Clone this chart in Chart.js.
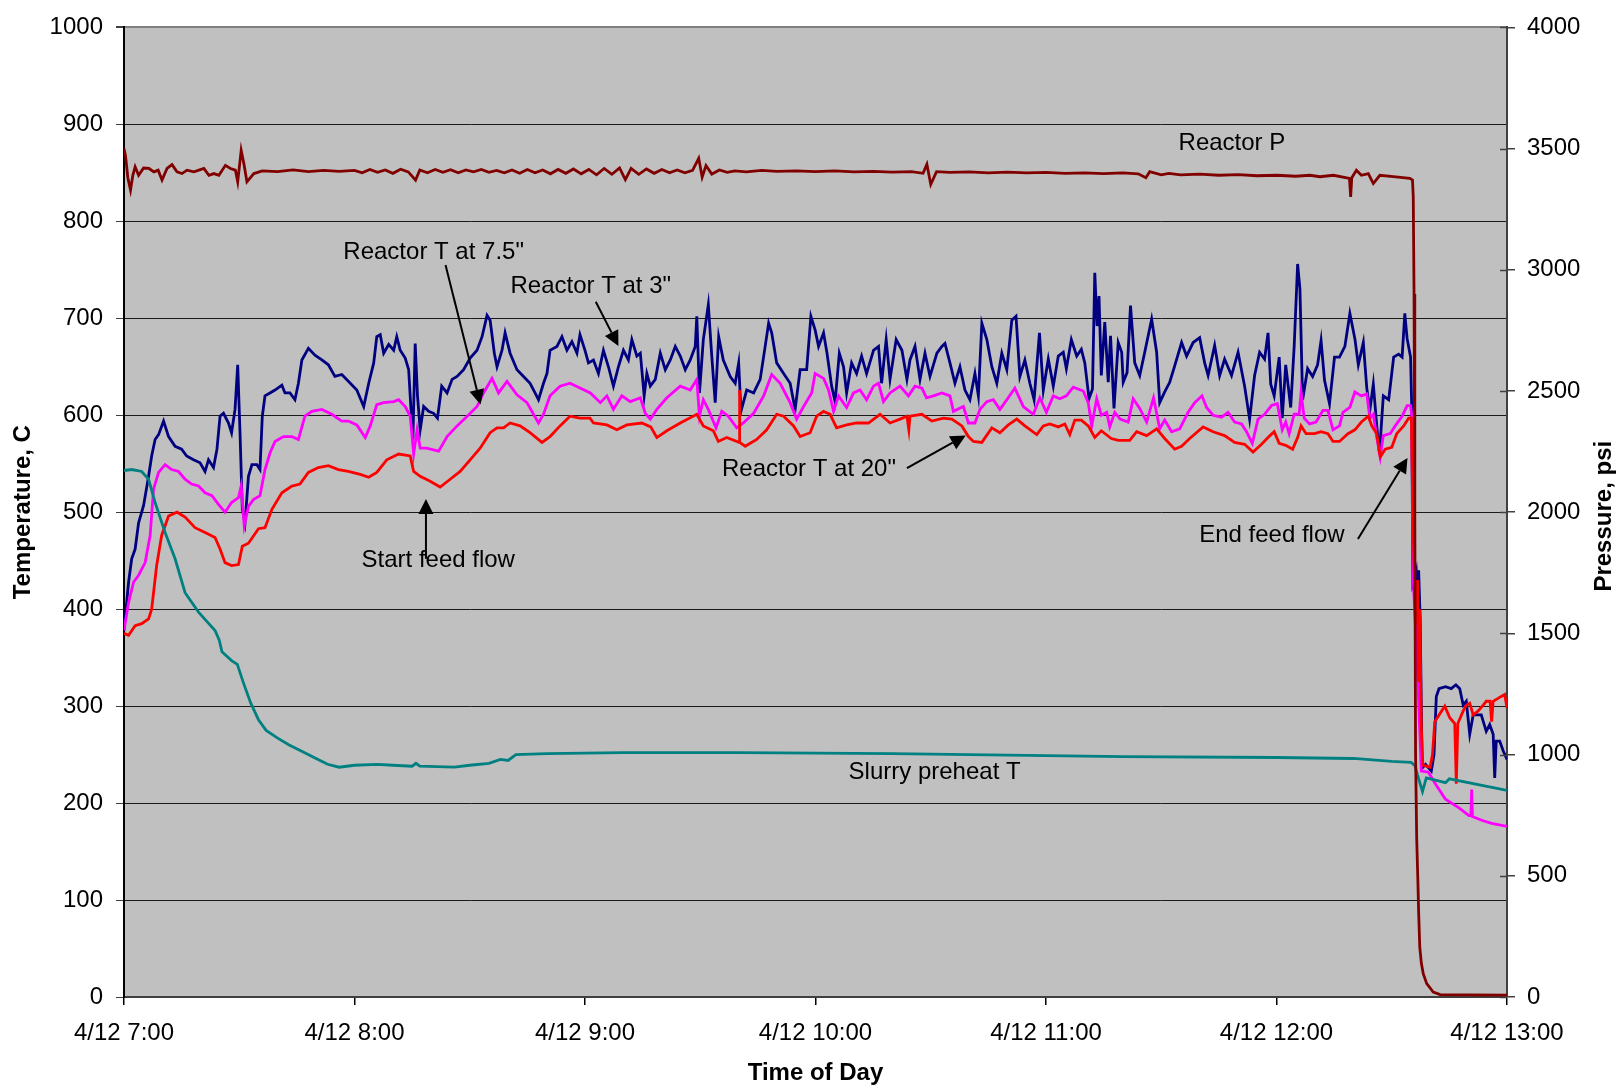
<!DOCTYPE html>
<html>
<head>
<meta charset="utf-8">
<script src="https://cdn.jsdelivr.net/npm/chart.js@4"></script>
<style>
  html, body { margin: 0; padding: 0; background: #fff; }
  canvas { display: block; }
</style>
</head>
<body>
<canvas id="runChart" width="1616" height="1088"></canvas>
<script>
// time is minutes after 4/12 7:00, temperatures in C, pressure in psi
const temp3in = [
  [0,378],[1.2,428],[2.0,452],[2.9,462],[3.8,489],[5.1,507],[6.4,537],[7.2,558],[8.1,575],[9.0,580],
  [10.3,594],[11.6,578],[13.3,568],[15.0,565],[16.3,558],[18.1,554],[19.8,551],[21.1,542],[22.0,554],[23.3,546],
  [24.2,565],[25.0,599],[25.9,602],[27.2,592],[28.0,582],[28.9,606],[29.6,652],[30.2,582],[30.8,503],[31.5,489],
  [32.4,537],[33.3,549],[34.6,549],[35.4,544],[36.0,599],[36.7,620],[38.0,623],[39.3,626],[41.1,631],[41.9,623],
  [43.2,623],[44.5,616],[45.4,633],[46.3,657],[48.0,669],[49.7,662],[51.5,657],[53.2,652],[54.9,640],[56.7,642],
  [58.4,635],[60.6,626],[62.4,609],[63.7,633],[65.0,654],[65.8,681],[66.7,683],[67.6,664],[68.9,673],[70.2,667],
  [71.0,681],[71.9,667],[73.2,659],[74.1,647],[74.7,606],[75.2,575],[75.8,674],[76.4,620],[77.1,585],[78.0,609],
  [79.3,604],[80.6,602],[81.6,597],[82.7,630],[84.1,623],[85.4,637],[86.7,640],[88.4,647],[90.1,659],[91.9,667],
  [93.2,681],[94.5,703],[95.3,698],[96.4,664],[97.1,650],[98.4,667],[99.2,685],[100.5,664],[102.3,647],[104.0,640],
  [105.7,633],[107.0,623],[107.9,616],[109.2,633],[110.1,643],[110.9,667],[112.7,671],[114.0,681],[115.3,667],[116.6,676],
  [117.9,664],[118.7,683],[120.0,667],[120.9,654],[122.2,657],[123.5,643],[124.8,667],[126.1,650],[127.4,630],[128.7,650],
  [130.0,667],[131.3,657],[132.2,678],[133.5,661],[134.4,664],[135.4,620],[136.1,643],[137.0,630],[138.3,637],[139.6,664],
  [140.9,647],[142.2,657],[143.5,671],[144.8,661],[146.1,647],[147.4,657],[148.7,671],[149.1,702],[149.8,623],[150.8,678],
  [152.1,714],[153.0,661],[153.9,613],[154.8,681],[156.0,657],[157.8,640],[159.1,633],[160.0,654],[160.6,604],[162.1,626],
  [163.9,623],[165.6,637],[166.9,671],[167.8,695],[168.6,685],[169.9,654],[171.7,643],[173.4,633],[174.7,606],[176.0,647],
  [177.7,647],[178.8,702],[179.9,688],[180.8,671],[182.1,685],[183.0,664],[184.2,630],[185.1,614],[186.2,664],[187.3,650],
  [188.1,623],[189.4,654],[190.7,643],[192.0,661],[193.3,643],[195.1,667],[196.4,671],[197.2,633],[198.4,678],[199.4,637],
  [201.0,678],[202.5,667],[203.8,637],[204.6,657],[205.9,671],[207.2,637],[208.5,664],[209.8,640],[211.6,664],[212.9,671],
  [213.7,674],[215.0,654],[216.3,633],[217.6,650],[218.9,626],[220.2,616],[221.5,643],[222.4,620],[223.3,695],[224.6,678],
  [225.9,650],[227.2,633],[228.5,664],[229.8,647],[231.1,698],[232.2,702],[233.2,640],[234.5,657],[235.8,633],[236.9,616],
  [238.3,685],[239.3,626],[240.6,658],[241.9,630],[243.2,661],[244.5,665],[245.3,648],[246.6,678],[248.0,661],[249.2,668],
  [250.1,654],[251.2,617],[252.1,627],[252.7,747],[253.3,692],[253.8,723],[254.4,641],[255.3,696],[256.2,634],[256.8,682],
  [257.7,607],[258.8,675],[259.7,665],[260.1,634],[261.1,644],[262.0,713],[263.1,654],[264.4,641],[265.7,665],[267.5,699],
  [268.8,665],[269.6,613],[270.9,624],[272.2,634],[273.5,651],[275.3,675],[276.6,661],[278.3,675],[280.0,680],[281.3,654],
  [282.2,641],[283.9,672],[285.2,641],[286.5,658],[288.3,641],[290.0,665],[291.7,630],[293.0,596],[294.3,641],[295.6,665],
  [296.9,658],[297.8,685],[298.5,632],[299.4,620],[300.7,660],[301.5,597],[302.4,652],[303.7,608],[304.6,671],[305.5,756],
  [306.1,730],[306.8,616],[308.1,648],[309.4,640],[310.7,652],[311.6,677],[312.5,636],[313.8,612],[315.1,660],[316.4,660],
  [317.8,671],[319.1,705],[320.4,679],[321.3,652],[322.6,675],[323.5,628],[324.3,605],[325.2,632],[326.1,589],[326.8,560],
  [327.8,620],[329.2,616],[330.5,660],[331.8,663],[332.7,660],[333.4,705],[334.0,679],[334.9,660],[335.2,608],[335.5,425],
  [336.0,430],[336.4,438],[336.7,415],[337.0,440],[337.4,390],[337.9,236],[338.8,240],[340.3,233],[341.0,250],[341.6,310],
  [342.3,318],[344.0,320],[345.5,318],[346.7,322],[347.7,318],[348.6,301],[349.4,305],[350.3,271],[351.2,291],[352.0,291],
  [353.3,291],[354.6,274],[355.5,281],[356.4,271],[356.8,226],[357.2,264],[358.1,264],[359.0,254],[360,245]
];

const temp7in = [
  [0,378],[1.2,407],[2.5,428],[3.8,435],[5.5,448],[6.8,476],[7.7,524],[9.0,541],[10.7,549],[12.4,544],
  [14.2,542],[15.9,534],[17.6,529],[19.4,527],[21.1,520],[22.9,517],[24.6,508],[26.3,500],[28.0,510],[29.8,515],
  [30.5,527],[31.3,486],[32.4,506],[33.7,513],[35.4,517],[36.7,544],[38.0,561],[39.3,573],[41.5,578],[43.7,578],
  [45.4,575],[47.1,599],[48.9,604],[51.5,606],[54.1,601],[56.7,594],[58.4,594],[60.6,590],[62.8,577],[64.1,589],
  [65.8,611],[67.6,613],[70.2,614],[71.5,616],[73.2,609],[74.5,599],[75.4,560],[76.3,585],[77.1,566],[78.8,566],
  [81.9,563],[84.1,578],[86.7,589],[88.8,597],[91.9,609],[93.6,623],[95.8,638],[97.5,623],[99.7,635],[102.3,621],
  [104.9,613],[106.6,601],[107.9,592],[109.2,601],[110.9,620],[113.5,630],[116.1,633],[118.7,628],[121.4,623],[124.0,613],
  [125.7,620],[127.4,606],[129.6,620],[131.8,614],[134.4,618],[135.7,602],[137.0,596],[138.7,606],[141.3,618],[144.8,630],
  [147.4,626],[149.1,637],[149.8,599],[150.8,616],[152.1,606],[154.1,587],[155.6,604],[157.3,599],[159.5,587],[161.2,592],
  [163.9,602],[166.5,620],[168.6,642],[170.8,633],[173.4,613],[175.1,596],[176.9,609],[179.0,623],[179.9,643],[182.1,638],
  [183.4,626],[184.7,604],[186.0,620],[188.1,608],[189.9,623],[191.6,626],[193.3,616],[195.1,630],[196.4,633],[197.7,614],
  [199.4,623],[202.0,630],[204.2,620],[205.9,630],[207.7,628],[208.9,618],[210.7,620],[212.9,623],[215.0,620],[215.9,604],
  [218.5,609],[219.8,592],[221.5,592],[222.8,606],[224.6,614],[226.3,616],[228.0,606],[229.8,616],[231.9,628],[234.1,609],
  [236.7,601],[238.4,618],[240.1,603],[241.9,620],[243.6,617],[245.3,620],[247.1,629],[249.7,625],[251.0,613],[251.9,589],
  [253.2,617],[254.4,600],[255.8,603],[256.6,588],[257.9,603],[259.3,596],[261.4,593],[262.7,617],[264.4,607],[266.2,593],
  [268.0,618],[269.6,586],[270.9,595],[272.7,583],[274.8,586],[277.0,603],[278.7,613],[280.6,620],[281.8,608],[283.5,600],
  [285.7,598],[287.4,603],[289.1,593],[290.9,591],[292.2,583],[293.7,571],[295.2,596],[296.9,601],[298.7,610],[300.2,612],
  [301.5,585],[302.4,593],[303.3,581],[304.6,601],[305.9,601],[306.4,624],[307.2,597],[308.6,591],[310.3,593],[312.1,605],
  [313.4,605],[314.7,585],[316.4,589],[317.3,603],[319.1,608],[320.4,624],[322.1,620],[323.5,622],[324.3,597],[325.2,601],
  [326.1,577],[327.0,557],[327.8,579],[329.6,581],[330.9,589],[332.7,599],[334.0,610],[334.9,610],[335.2,600],[335.6,430],
  [336.2,380],[336.9,315],[337.7,233],[339.5,232],[341.5,219],[344.0,204],[347.5,195],[350.1,187],[350.6,187],[350.8,214],
  [351.0,186],[353.6,182],[356.0,179],[360,176]
];

const temp20in = [
  [0,375],[1.2,373],[2.9,383],[4.6,385],[6.4,390],[7.2,400],[8.5,445],[9.8,476],[11.6,496],[13.8,500],
  [15.9,495],[18.5,484],[21.1,479],[23.7,474],[25.0,462],[26.3,448],[28.0,445],[29.8,446],[30.8,465],[32.4,468],
  [35.0,483],[36.7,484],[38.5,503],[41.1,520],[43.7,527],[45.8,529],[48.0,541],[50.6,546],[53.2,548],[55.8,544],
  [58.4,542],[61.5,539],[63.7,536],[65.8,541],[68.4,554],[71.5,560],[74.5,558],[75.4,542],[77.1,537],[79.7,532],
  [82.3,526],[84.9,534],[87.5,542],[90.1,554],[92.7,566],[95.3,582],[97.1,587],[98.8,587],[100.5,592],[103.1,589],
  [105.7,582],[108.8,572],[110.9,578],[113.5,589],[116.1,599],[118.7,597],[121.3,597],[122.2,592],[125.7,590],[128.3,585],
  [130.9,590],[134.8,592],[137.1,588],[138.7,577],[141.3,584],[144.8,592],[149.1,601],[150.8,589],[153.4,584],[154.7,573],
  [156.9,577],[160.1,572],[160.2,626],[160.3,572],[161.7,568],[164.7,575],[167.3,585],[169.9,601],[171.7,599],[174.3,589],
  [176.0,578],[178.6,582],[180.3,599],[182.1,604],[183.8,601],[185.5,587],[188.1,590],[190.7,592],[193.8,592],[196.8,601],
  [199.4,592],[202.0,596],[203.8,599],[204.3,585],[204.6,599],[207.7,601],[210.3,594],[213.3,597],[215.5,596],[218.1,589],
  [219.8,578],[221.1,573],[223.3,572],[225.9,587],[228.0,582],[230.2,590],[232.4,596],[234.5,589],[237.6,580],[239.3,589],
  [241.0,591],[243.2,588],[244.9,591],[246.2,580],[247.5,595],[249.2,595],[251.0,589],[252.7,577],[254.4,584],[257.0,576],
  [258.8,574],[261.8,574],[263.6,583],[266.2,579],[268.8,586],[270.9,576],[273.5,565],[275.3,568],[277.4,576],[280.9,588],
  [283.5,583],[286.5,579],[289.1,572],[291.7,570],[293.9,562],[296.1,570],[298.3,579],[299.4,583],[300.7,571],[302.4,569],
  [304.2,565],[305.5,577],[306.4,589],[307.7,581],[309.9,581],[311.6,583],[313.4,581],[314.7,573],[316.4,573],[318.6,581],
  [320.4,585],[322.1,593],[323.9,599],[324.8,589],[326.1,581],[327.0,557],[328.3,565],[330.0,567],[331.3,581],[333.1,589],
  [334.4,597],[335.1,597],[335.7,463],[336.2,384],[336.5,420],[336.7,430],[337.0,325],[337.3,400],[337.7,278],[338.1,239],
  [340.0,237],[340.6,250],[341.2,284],[342.5,292],[343.8,300],[345.1,288],[346.4,282],[346.8,220],[347.2,282],[348.6,295],
  [349.4,301],[350.3,303],[351.2,291],[352.5,295],[353.8,301],[354.6,305],[355.6,305],[356.0,284],[356.4,305],[358.5,310],
  [359.4,312],[360,298]
];

const slurryT = [
  [0,543],[2,544],[4.6,542],[6.4,534],[8.1,510],[10.7,479],[13.3,452],[15.9,417],[19.4,397],[23.7,378],
  [24.8,368],[25.5,356],[28,347],[29.5,343],[31,325],[33,303],[35,286],[37,275],[40,267],[43,260],
  [46,254],[50,246],[53,240],[56,237],[60,239],[66,240],[70,239],[75,238],[76,241],[77,238],
  [86,237],[90,239],[95,241],[98,245],[100,244],[102,250],[110,251],[130,252],[160,252],[200,251],
  [240,249],[260,248],[300,247],[320,246],[330,243],[335,242],[336,239],[337,225],[338,212],[339,226],
  [344,221],[345,225],[360,213]
];

const reactorP = [
  [0,3500],[0.4,3470],[1.0,3380],[1.7,3329],[2.3,3390],[2.9,3425],[3.8,3390],[5.1,3420],[6.5,3418],[7.8,3404],
  [8.9,3411],[9.9,3370],[11.2,3418],[12.5,3434],[13.8,3404],[15.1,3397],[16.4,3411],[18.2,3404],[19.5,3411],[20.8,3418],
  [22.1,3390],[23.4,3397],[24.7,3390],[26.4,3431],[27.7,3418],[29.0,3411],[29.6,3363],[30.5,3493],[31.2,3438],[32.0,3363],
  [33.8,3397],[36,3408],[40,3405],[44,3412],[48,3405],[52,3410],[56,3406],[60,3410],[62,3400],[64,3414],
  [66,3402],[68,3412],[70,3398],[72,3415],[74,3404],[75.9,3370],[77,3412],[79,3400],[81,3414],[83,3402],
  [85,3413],[87,3400],[89,3412],[91,3404],[93,3414],[95,3402],[97,3410],[99,3400],[101,3412],[103,3398],
  [105,3414],[107,3400],[109,3412],[111,3396],[113,3414],[115,3398],[117,3416],[119,3396],[121,3414],[123,3392],
  [125,3418],[127,3394],[129,3420],[130.5,3372],[132,3418],[134,3394],[136,3416],[138,3398],[140,3414],[142,3400],
  [144,3412],[146,3400],[148,3410],[149.6,3460],[150.5,3382],[151.5,3430],[153,3395],[155,3412],[157,3402],[159,3408],
  [162,3404],[166,3410],[170,3406],[175,3408],[180,3405],[185,3408],[190,3404],[195,3406],[200,3403],[205,3405],
  [208,3398],[209,3435],[210,3352],[211.5,3405],[215,3402],[220,3404],[225,3400],[230,3403],[235,3400],[240,3402],
  [245,3398],[250,3400],[255,3397],[260,3400],[264,3396],[266,3380],[267,3405],[270,3392],[272,3398],[275,3392],
  [280,3395],[285,3390],[290,3393],[295,3388],[300,3390],[305,3386],[308.7,3390],[311.3,3384],[314.8,3390],[319,3377],
  [319.3,3301],[319.6,3380],[320.8,3411],[322.1,3390],[323.9,3397],[325.2,3356],[326.9,3390],[330.4,3384],[334.7,3377],[335.4,3370],
  [335.6,3300],[335.8,2900],[336.0,2000],[336.2,1000],[336.5,650],[336.8,480],[337.0,350],[337.3,205],[337.7,140],[338.2,96],
  [339.1,55],[340.8,20],[342.6,10],[350,9],[360,8]
];

const hourTicks = ['4/12 7:00', '4/12 8:00', '4/12 9:00', '4/12 10:00', '4/12 11:00', '4/12 12:00', '4/12 13:00'];

// text labels and arrows, placed in (minutes, C)
const notes = [
  { text: 'Reactor P', x: 288.4, y: 880 },
  { text: 'Reactor T at 7.5"', x: 80.6, y: 767.7 },
  { text: 'Reactor T at 3"', x: 121.5, y: 732.8 },
  { text: 'Reactor T at 20"', x: 178.3, y: 544.2 },
  { text: 'Start feed flow', x: 81.8, y: 450.7 },
  { text: 'Slurry preheat T', x: 211.0, y: 232 },
  { text: 'End feed flow', x: 298.8, y: 476.6 }
];
const arrows = [
  { from: [83.7, 755], to: [92.8, 611] },
  { from: [122.8, 717], to: [128.7, 671.4] },
  { from: [203.8, 545.4], to: [219.1, 579.2] },
  { from: [78.6, 452], to: [78.6, 513.7] },
  { from: [321.2, 472.3], to: [334.1, 556] }
];

const FONT = 'Liberation Sans, Arial, Helvetica, sans-serif';
const pts = arr => arr.map(([x, y]) => ({ x, y }));

function drawArrow(ctx, x1, y1, x2, y2) {
  const ang = Math.atan2(y2 - y1, x2 - x1);
  const len = 15, half = 7.5;
  const c = Math.cos(ang), s = Math.sin(ang);
  ctx.beginPath();
  ctx.moveTo(x1, y1);
  ctx.lineTo(x2 - len * c, y2 - len * s);
  ctx.stroke();
  ctx.beginPath();
  ctx.moveTo(x2, y2);
  ctx.lineTo(x2 - len * c - half * s, y2 - len * s + half * c);
  ctx.lineTo(x2 - len * c + half * s, y2 - len * s - half * c);
  ctx.closePath();
  ctx.fill();
}

const plotDecor = {
  id: 'plotDecor',
  beforeDraw(chart) {
    const { ctx, chartArea: a } = chart;
    ctx.save();
    ctx.fillStyle = '#c0c0c0';
    ctx.fillRect(a.left, a.top, a.right - a.left, a.bottom - a.top);
    ctx.restore();
  },
  afterDraw(chart) {
    const { ctx, chartArea: a, scales } = chart;
    const sx = scales.x, sy = scales.y, sp = scales.yP;
    ctx.save();

    // pressure axis ticks cross the axis line
    ctx.strokeStyle = '#404040';
    ctx.lineWidth = 1.5;
    sp.ticks.forEach(t => {
      const py = Math.round(sp.getPixelForValue(t.value)) + 0.5;
      ctx.beginPath();
      ctx.moveTo(a.right - 7, py);
      ctx.lineTo(a.right, py);
      ctx.stroke();
    });

    ctx.fillStyle = '#000';
    ctx.font = '24px ' + FONT;
    ctx.textAlign = 'center';
    ctx.textBaseline = 'middle';
    notes.forEach(n => ctx.fillText(n.text, sx.getPixelForValue(n.x), sy.getPixelForValue(n.y)));

    ctx.strokeStyle = '#000';
    ctx.lineWidth = 2;
    arrows.forEach(ar => drawArrow(ctx,
      sx.getPixelForValue(ar.from[0]), sy.getPixelForValue(ar.from[1]),
      sx.getPixelForValue(ar.to[0]), sy.getPixelForValue(ar.to[1])));

    // right axis title reads bottom to top
    ctx.font = 'bold 24px ' + FONT;
    ctx.translate(1604, (a.top + a.bottom) / 2 + 4);
    ctx.rotate(-Math.PI / 2);
    ctx.fillText('Pressure, psi', 0, 0);
    ctx.restore();
  }
};

const line = (label, arr, color, axis) => ({
  label,
  data: pts(arr),
  borderColor: color,
  backgroundColor: color,
  borderWidth: 2.8,
  pointRadius: 0,
  tension: 0,
  fill: false,
  yAxisID: axis
});

new Chart(document.getElementById('runChart'), {
  type: 'line',
  data: {
    datasets: [
      line('Reactor P', reactorP, '#800000', 'yP'),
      line('Slurry preheat T', slurryT, '#008080', 'y'),
      line('Reactor T at 20"', temp20in, '#ff0000', 'y'),
      line('Reactor T at 7.5"', temp7in, '#ff00ff', 'y'),
      line('Reactor T at 3"', temp3in, '#000080', 'y')
    ]
  },
  options: {
    responsive: false,
    animation: false,
    devicePixelRatio: 1,
    layout: { padding: { top: 23, left: 0, right: 0, bottom: 0 }, autoPadding: false },
    plugins: { legend: { display: false }, tooltip: { enabled: false } },
    scales: {
      x: {
        type: 'linear',
        min: 0,
        max: 360,
        afterFit: s => { s.height = 91; },
        grid: { drawOnChartArea: false, drawTicks: true, tickLength: 8, tickColor: '#000', lineWidth: 1.5 },
        border: { color: '#404040', width: 2 },
        ticks: {
          stepSize: 60,
          padding: 14,
          color: '#000',
          font: { family: FONT, size: 24 },
          maxRotation: 0,
          autoSkip: false,
          callback: v => hourTicks[Math.round(v / 60)]
        },
        title: {
          display: true,
          text: 'Time of Day',
          color: '#000',
          font: { family: FONT, size: 24, weight: 'bold' },
          padding: { top: 0, bottom: 0 }
        }
      },
      y: {
        position: 'left',
        min: 0,
        max: 1000,
        afterFit: s => { s.width = 124; },
        grid: {
          color: c => c.tick.value === 1000 ? '#808080' : '#1a1a1a',
          lineWidth: c => c.tick.value === 1000 ? 2 : 1,
          tickColor: '#404040',
          tickLength: 8
        },
        border: { color: '#000', width: 2 },
        ticks: {
          stepSize: 100,
          padding: 13,
          color: '#000',
          font: { family: FONT, size: 24 },
          callback: v => String(v)
        },
        title: {
          display: true,
          text: 'Temperature, C',
          color: '#000',
          font: { family: FONT, size: 24, weight: 'bold' },
          padding: { top: 9, bottom: 0 }
        }
      },
      yP: {
        position: 'right',
        min: 0,
        max: 4000,
        afterFit: s => { s.width = 109; },
        grid: { drawOnChartArea: false, tickColor: '#404040', tickLength: 8, lineWidth: 1.5 },
        border: { color: '#404040', width: 2 },
        ticks: {
          stepSize: 500,
          padding: 12,
          color: '#000',
          font: { family: FONT, size: 24 },
          callback: v => String(v)
        }
      }
    }
  },
  plugins: [plotDecor]
});
</script>
</body>
</html>
